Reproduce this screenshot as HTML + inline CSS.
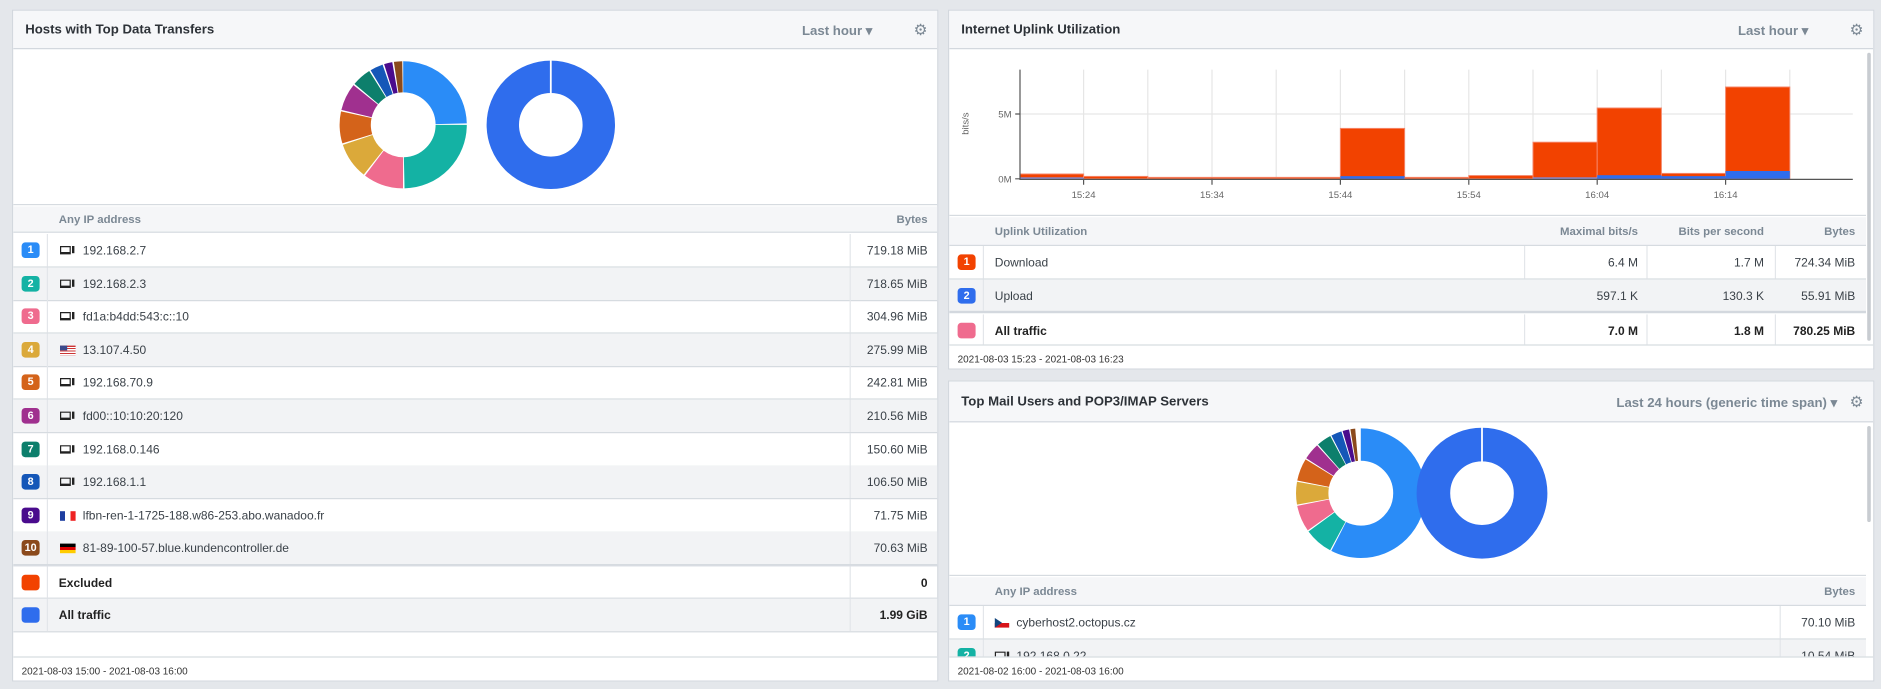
<!DOCTYPE html>
<html><head><meta charset="utf-8"><style>
*{box-sizing:border-box;margin:0;padding:0}
html,body{width:1881px;height:688px;overflow:hidden;background:#e4e7eb;font-family:"Liberation Sans",sans-serif}
#w{position:absolute;left:0;top:0;width:1568px;height:574px;transform:scale(1.2);transform-origin:0 0}
.p{position:absolute;background:#fff;border:1px solid #d3d8de;overflow:hidden}
.hd{position:absolute;left:0;right:0;top:0;height:32px;background:#f6f7f9;border-bottom:1px solid #d3d8de}
.t{position:absolute;left:10px;top:10px;font-size:11px;font-weight:bold;color:#2d3238}
.dd{position:absolute;top:10px;right:36px;font-size:11px;font-weight:bold;color:#7b8894}
.g{position:absolute;top:8px;right:8px;font-size:13px;color:#7b8894}
.row{position:absolute;left:0;height:28px;border-bottom:1px solid #d6dbe0;font-size:10px;color:#3a4148}
.row span{top:9px}
.row.gr{background:#f2f3f5}
.bd{position:absolute;left:7px;top:7px;width:15px;height:13px;border-radius:3px;color:#fff;font-size:9px;font-weight:bold;text-align:center;line-height:13px}
.th{position:absolute;left:0;height:22px;background:#f5f6f8;border-bottom:1px solid #d6dbe0;font-size:9.5px;font-weight:bold;color:#7b8894}
.vl{position:absolute;top:0;bottom:0;width:1px;background:#e3e6ea}
.dev{position:absolute;top:10px;width:9px;height:7px;border:1.5px solid #222;border-bottom-width:2px}
.dev:after{content:"";position:absolute;left:9px;top:-1px;width:2px;height:6px;background:#222}
.ft{position:absolute;left:0;right:0;bottom:0;height:20px;border-top:1px solid #d6dbe0;font-size:8.3px;color:#333;padding:6px 0 0 7px;background:#fff}
.sb{position:absolute;width:3px;background:#c8ccd1;border-radius:2px}
</style></head><body><div id="w">

<!-- LEFT PANEL -->
<div class="p" style="left:10px;top:8px;width:772px;height:560px">
 <div class="hd"><div class="t">Hosts with Top Data Transfers</div><div class="dd" style="right:54px">Last hour ▾</div><div class="g">⚙</div></div>
 <svg style="position:absolute;left:0;top:33px" width="772" height="130">
  <g transform="translate(325,62) rotate(-90)" fill="none" stroke-width="26">
   <circle r="40" stroke="#2a8cf7" stroke-dasharray="61.8 300" stroke-dashoffset="0"/>
   <circle r="40" stroke="#14b2a4" stroke-dasharray="61.8 300" stroke-dashoffset="-62.8"/>
   <circle r="40" stroke="#ef6b8e" stroke-dasharray="25.6 300" stroke-dashoffset="-125.6"/>
   <circle r="40" stroke="#dba93a" stroke-dasharray="23.1 300" stroke-dashoffset="-152.2"/>
   <circle r="40" stroke="#d4631a" stroke-dasharray="20.4 300" stroke-dashoffset="-176.3"/>
   <circle r="40" stroke="#a0308f" stroke-dasharray="17.4 300" stroke-dashoffset="-197.7"/>
   <circle r="40" stroke="#0d7f6c" stroke-dasharray="12.3 300" stroke-dashoffset="-216.1"/>
   <circle r="40" stroke="#1557b8" stroke-dasharray="8.3 300" stroke-dashoffset="-229.4"/>
   <circle r="40" stroke="#4a0b8d" stroke-dasharray="5.3 300" stroke-dashoffset="-238.7"/>
   <circle r="40" stroke="#8b4a1c" stroke-dasharray="5.3 300" stroke-dashoffset="-245"/>
  </g>
  <circle cx="448" cy="62" r="40" fill="none" stroke="#2f6ded" stroke-width="27"/>
  <line x1="448" y1="8" x2="448" y2="36" stroke="#fff" stroke-width="1.5"/>
 </svg>
 <div style="position:absolute;left:0;right:0;top:161px;border-top:1px solid #d6dbe0"></div>
 <div class="th" style="top:163px;width:772px"><span style="position:absolute;left:38px;top:6px">Any IP address</span><span style="position:absolute;right:10px;top:6px">Bytes</span></div>
 <div id="rowsL"></div>
 <div class="ft">2021-08-03 15:00 - 2021-08-03 16:00</div>
</div>

<!-- RIGHT TOP PANEL -->
<div class="p" style="left:790px;top:8px;width:772px;height:300px">
 <div class="hd"><div class="t">Internet Uplink Utilization</div><div class="dd" style="right:54px">Last hour ▾</div><div class="g">⚙</div></div>
 <div class="sb" style="left:765px;top:35px;height:240px"></div>
 <svg style="position:absolute;left:-790px;top:-8px" width="1568" height="200" font-family="Liberation Sans,sans-serif">
  <g stroke="#e6e6e6" stroke-width="1">
   <line x1="849" y1="94" x2="1543" y2="94"/>
   <line x1="902" y1="57" x2="902" y2="148"/><line x1="955.5" y1="57" x2="955.5" y2="148"/><line x1="1009" y1="57" x2="1009" y2="148"/><line x1="1062.5" y1="57" x2="1062.5" y2="148"/><line x1="1116" y1="57" x2="1116" y2="148"/><line x1="1169.5" y1="57" x2="1169.5" y2="148"/><line x1="1223" y1="57" x2="1223" y2="148"/><line x1="1276.5" y1="57" x2="1276.5" y2="148"/><line x1="1330" y1="57" x2="1330" y2="148"/><line x1="1383.5" y1="57" x2="1383.5" y2="148"/><line x1="1437" y1="57" x2="1437" y2="148"/><line x1="1490.5" y1="57" x2="1490.5" y2="148"/>
  </g>
  <g fill="#f24200" stroke="#f6866a" stroke-width="0.8">
   <rect x="849" y="144" width="53" height="4"/>
   <rect x="902" y="146" width="53.5" height="2"/>
   <rect x="955.5" y="146.8" width="160.5" height="1.2"/>
   <rect x="1116" y="106" width="53.5" height="42"/>
   <rect x="1169.5" y="146.8" width="53.5" height="1.2"/>
   <rect x="1223" y="145.3" width="53.5" height="2.7"/>
   <rect x="1276.5" y="117.5" width="53.5" height="30.5"/>
   <rect x="1330" y="89" width="53.5" height="59"/>
   <rect x="1383.5" y="143.5" width="53.5" height="4.5"/>
   <rect x="1437" y="71.5" width="53.5" height="76.5"/>
  </g>
  <g fill="#2f6ded">
   <rect x="849" y="146.8" width="53" height="1.2" fill="#7c8fe0"/>
   <rect x="1116" y="145.8" width="53.5" height="2.2"/>
   <rect x="1276.5" y="146.8" width="53.5" height="1.2" fill="#7c8fe0"/>
   <rect x="1330" y="145" width="53.5" height="3"/>
   <rect x="1383.5" y="145.8" width="53.5" height="2.2"/>
   <rect x="1437" y="141.5" width="53.5" height="6.5"/>
  </g>
  <line x1="849" y1="57" x2="849" y2="149" stroke="#555" stroke-width="1"/>
  <line x1="849" y1="148.5" x2="1543" y2="148.5" stroke="#555" stroke-width="1"/>
  <line x1="845" y1="94" x2="849" y2="94" stroke="#555"/><line x1="845" y1="148" x2="849" y2="148" stroke="#555"/>
  <g stroke="#555"><line x1="902" y1="148" x2="902" y2="153"/><line x1="1009" y1="148" x2="1009" y2="153"/><line x1="1116" y1="148" x2="1116" y2="153"/><line x1="1223" y1="148" x2="1223" y2="153"/><line x1="1330" y1="148" x2="1330" y2="153"/><line x1="1437" y1="148" x2="1437" y2="153"/></g>
  <g font-size="8" fill="#666" text-anchor="end"><text x="842" y="97">5M</text><text x="842" y="151">0M</text></g>
  <g font-size="8" fill="#666" text-anchor="middle"><text x="902" y="164">15:24</text><text x="1009" y="164">15:34</text><text x="1116" y="164">15:44</text><text x="1223" y="164">15:54</text><text x="1330" y="164">16:04</text><text x="1437" y="164">16:14</text></g>
  <text transform="translate(806,102) rotate(-90)" font-size="8" fill="#666" text-anchor="middle">bits/s</text>
 </svg>
 <div style="position:absolute;left:0;right:6px;top:170px;border-top:1px solid #d6dbe0"></div>
 <div class="th" style="top:172px;width:764px;height:24px"><span style="position:absolute;left:38px;top:7px">Uplink Utilization</span><span style="position:absolute;right:190px;top:7px">Maximal bits/s</span><span style="position:absolute;right:85px;top:7px">Bits per second</span><span style="position:absolute;right:9px;top:7px">Bytes</span></div>
 <div class="row" style="top:196px;width:764px"><div class="bd" style="background:#f24200">1</div><div class="vl" style="left:28px"></div><span style="position:absolute;left:38px">Download</span><div class="vl" style="left:479px"></div><span style="position:absolute;right:190px">6.4 M</span><div class="vl" style="left:581px"></div><span style="position:absolute;right:85px">1.7 M</span><div class="vl" style="left:688px"></div><span style="position:absolute;right:9px">724.34 MiB</span></div>
 <div class="row gr" style="top:224px;width:764px;border-bottom:2px solid #d3d8de"><div class="bd" style="background:#2f6ded">2</div><div class="vl" style="left:28px"></div><span style="position:absolute;left:38px">Upload</span><span style="position:absolute;right:190px">597.1 K</span><span style="position:absolute;right:85px">130.3 K</span><span style="position:absolute;right:9px">55.91 MiB</span></div>
 <div class="row" style="top:253px;width:764px;font-weight:bold;color:#222"><div class="bd" style="background:#ef6b8e"></div><div class="vl" style="left:28px"></div><span style="position:absolute;left:38px">All traffic</span><div class="vl" style="left:479px"></div><span style="position:absolute;right:190px">7.0 M</span><div class="vl" style="left:581px"></div><span style="position:absolute;right:85px">1.8 M</span><div class="vl" style="left:688px"></div><span style="position:absolute;right:9px">780.25 MiB</span></div>
 <div class="ft">2021-08-03 15:23 - 2021-08-03 16:23</div>
</div>

<!-- RIGHT BOTTOM PANEL -->
<div class="p" style="left:790px;top:317px;width:772px;height:251px">
 <div class="hd" style="height:34px"><div class="t" style="top:11px">Top Mail Users and POP3/IMAP Servers</div><div class="dd" style="right:30px;top:11px">Last 24 hours (generic time span) ▾</div><div class="g" style="top:9px">⚙</div></div>
 <div class="sb" style="left:765px;top:37px;height:80px"></div>
 <svg style="position:absolute;left:0;top:35px" width="772" height="130">
  <g transform="translate(343,58) rotate(-90)" fill="none" stroke-width="27">
   <circle r="40.5" stroke="#2a8cf7" stroke-dasharray="146.2 300" stroke-dashoffset="0"/>
   <circle r="40.5" stroke="#14b2a4" stroke-dasharray="18 300" stroke-dashoffset="-147"/>
   <circle r="40.5" stroke="#ef6b8e" stroke-dasharray="16.8 300" stroke-dashoffset="-165.8"/>
   <circle r="40.5" stroke="#dba93a" stroke-dasharray="14.3 300" stroke-dashoffset="-183.4"/>
   <circle r="40.5" stroke="#d4631a" stroke-dasharray="14.3 300" stroke-dashoffset="-198.5"/>
   <circle r="40.5" stroke="#a0308f" stroke-dasharray="10.5 300" stroke-dashoffset="-213.6"/>
   <circle r="40.5" stroke="#0d7f6c" stroke-dasharray="9.3 300" stroke-dashoffset="-224.9"/>
   <circle r="40.5" stroke="#1557b8" stroke-dasharray="6.7 300" stroke-dashoffset="-235"/>
   <circle r="40.5" stroke="#4a0b8d" stroke-dasharray="4.2 300" stroke-dashoffset="-242.5"/>
   <circle r="40.5" stroke="#8b4a1c" stroke-dasharray="3 300" stroke-dashoffset="-247.5"/>
  </g>
  <circle cx="444" cy="58" r="40.5" fill="none" stroke="#2f6ded" stroke-width="28"/>
  <line x1="444" y1="3" x2="444" y2="32" stroke="#fff" stroke-width="1.5"/>
 </svg>
 <div style="position:absolute;left:0;right:6px;top:161px;border-top:1px solid #d6dbe0"></div>
 <div class="th" style="top:163px;width:764px;height:24px"><span style="position:absolute;left:38px;top:7px">Any IP address</span><span style="position:absolute;right:9px;top:7px">Bytes</span></div>
 <div class="row" style="top:187px;width:764px;height:28px"><div class="bd" style="background:#2a8cf7">1</div><div class="vl" style="left:28px"></div><div style="position:absolute;left:38px;top:10px;width:12px;height:8px;background:linear-gradient(#fff 50%,#d7141a 50%)"><div style="width:0;height:0;border-top:4px solid transparent;border-bottom:4px solid transparent;border-left:6px solid #11457e"></div></div><span style="position:absolute;left:56px">cyberhost2.octopus.cz</span><div class="vl" style="left:692px"></div><span style="position:absolute;right:9px">70.10 MiB</span></div>
 <div class="row gr" style="top:215px;width:764px;height:28px"><div class="bd" style="background:#14b2a4">2</div><div class="vl" style="left:28px"></div><div class="dev" style="left:38px"></div><span style="position:absolute;left:56px">192.168.0.22</span><div class="vl" style="left:692px"></div><span style="position:absolute;right:9px">10.54 MiB</span></div>
 <div class="ft">2021-08-02 16:00 - 2021-08-03 16:00</div>
</div>
</div>
<script>
var d=[["#2a8cf7","1","d","192.168.2.7","719.18 MiB"],["#14b2a4","2","d","192.168.2.3","718.65 MiB"],["#ef6b8e","3","d","fd1a:b4dd:543:c::10","304.96 MiB"],["#dba93a","4","us","13.107.4.50","275.99 MiB"],["#d4631a","5","d","192.168.70.9","242.81 MiB"],["#a0308f","6","d","fd00::10:10:20:120","210.56 MiB"],["#0d7f6c","7","d","192.168.0.146","150.60 MiB"],["#1557b8","8","d","192.168.1.1","106.50 MiB"],["#4a0b8d","9","fr","lfbn-ren-1-1725-188.w86-253.abo.wanadoo.fr","71.75 MiB"],["#8b4a1c","10","de","81-89-100-57.blue.kundencontroller.de","70.63 MiB"]];
var h="";
d.forEach(function(r,i){
 var top=Math.round(186+i*27.6);
 var ic=r[2]=="d"?'<div class="dev" style="left:39px"></div>':
  r[2]=="us"?'<div style="position:absolute;left:39px;top:10px;width:13px;height:8px;background:repeating-linear-gradient(#c33 0 1px,#fff 1px 2px)"><div style="width:6px;height:4px;background:#3b4a8c"></div></div>':
  r[2]=="fr"?'<div style="position:absolute;left:39px;top:10px;width:13px;height:8px;background:linear-gradient(90deg,#1e3ea0 33%,#fff 33% 66%,#e22 66%)"></div>':
  '<div style="position:absolute;left:39px;top:10px;width:13px;height:8px;background:linear-gradient(#000 33%,#d00 33% 66%,#fc0 66%)"></div>';
 h+='<div class="row'+(i%2?' gr':'')+'" style="top:'+top+'px;width:772px"><div class="bd" style="background:'+r[0]+'">'+r[1]+'</div><div class="vl" style="left:28px"></div>'+ic+'<span style="position:absolute;left:58px">'+r[3]+'</span><div class="vl" style="left:697px"></div><span style="position:absolute;right:10px">'+r[4]+'</span></div>';
});
h+='<div class="row" style="top:462px;width:772px;border-top:1px solid #d3d8de;font-weight:bold;color:#222"><div class="bd" style="background:#f24200"></div><div class="vl" style="left:28px"></div><span style="position:absolute;left:38px">Excluded</span><div class="vl" style="left:697px"></div><span style="position:absolute;right:10px">0</span></div>';
h+='<div class="row gr" style="top:490px;width:772px;font-weight:bold;color:#222"><div class="bd" style="background:#2f6ded"></div><div class="vl" style="left:28px"></div><span style="position:absolute;left:38px">All traffic</span><div class="vl" style="left:697px"></div><span style="position:absolute;right:10px">1.99 GiB</span></div>';
document.getElementById("rowsL").innerHTML=h;
</script>
</body></html>
